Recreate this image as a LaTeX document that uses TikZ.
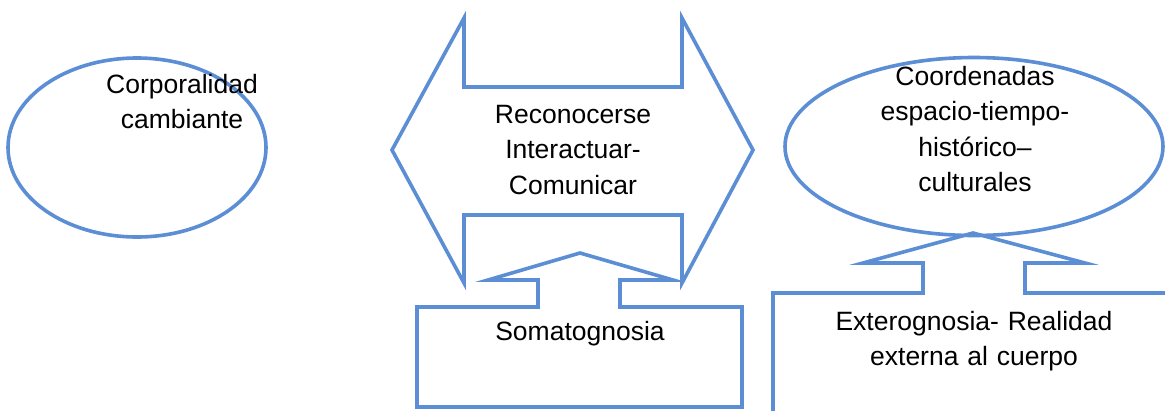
\documentclass[tikz,border=0pt]{standalone}
\usepackage{fontspec}
\setmainfont{Liberation Sans}
\definecolor{shapeblue}{RGB}{91,142,213}
\begin{document}
\begin{tikzpicture}[x=1pt,y=-1pt,
  outline/.style={draw=shapeblue,line width=3.6pt,line join=miter,fill=none},
  lbl/.style={font=\fontsize{26.5}{35.5}\selectfont,text width=300pt,align=center,anchor=base,inner sep=0pt}]
\useasboundingbox (0,0) rectangle (1165,410);
\clip (0,0) rectangle (1165,410);
% left ellipse
\draw[outline] (137,147.5) ellipse [x radius=129, y radius=89.5];
\node[lbl] (corp) at (182,93) {Corporalidad\\cambiante};
% double arrow
\draw[outline] (464,18) -- (464,87) -- (682,87) -- (682,18) -- (753,150) -- (682,283)
  -- (682,215) -- (464,215) -- (464,283) -- (392,150) -- cycle;
\node[lbl] (reco) at (573,123) {Reconocerse\\Interactuar-\\Comunicar};
% right ellipse
\draw[outline] (974,146.5) ellipse [x radius=189, y radius=89];
\node[lbl] (coord) at (975,85) {Coordenadas\\espacio-tiempo-\\histórico–\\culturales};
% somatognosia callout
\draw[outline] (417,307) -- (538,307) -- (538,280) -- (488,280) -- (580,253) -- (673,280)
  -- (620,280) -- (620,307) -- (742,307) -- (742,407) -- (417,407) -- cycle;
\node[lbl] (soma) at (580,340) {Somatognosia};
% exterognosia callout
\draw[outline] (773,440) -- (773,293) -- (923,293) -- (923,263) -- (863,263) -- (973,233)
  -- (1085,263) -- (1025,263) -- (1025,293) -- (1200,293);
\node[lbl] (extero) at (974,330) {Exterognosia- Realidad\\externa al cuerpo};
\end{tikzpicture}
\end{document}
